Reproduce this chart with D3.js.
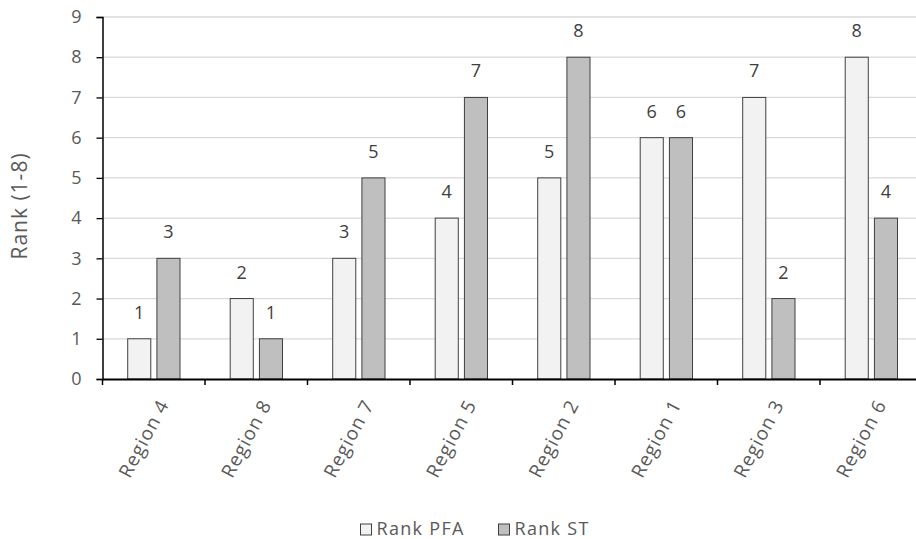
<!DOCTYPE html>
<html>
<head>
<meta charset="utf-8">
<script src="https://cdn.jsdelivr.net/npm/d3@7"></script>
<style>
  html, body { margin: 0; padding: 0; background: #fff; }
  svg { display: block; font-family: "Open Sans", "Noto Sans", sans-serif; }
</style>
</head>
<body>
<svg id="chart" width="916" height="539"></svg>
<script>
const categories = ["Region 4", "Region 8", "Region 7", "Region 5", "Region 2", "Region 1", "Region 3", "Region 6"];
const rankPFA = [1, 2, 3, 4, 5, 6, 7, 8];
const rankST = [3, 1, 5, 7, 8, 6, 2, 4];
const seriesNames = ["Rank PFA", "Rank ST"];
const yTicks = [0, 1, 2, 3, 4, 5, 6, 7, 8, 9];
const yTitle = "Rank (1-8)";

(function () {
const colors = ["#f2f2f2", "#bfbfbf"];
const textColor = "#595959";

const svg = d3.select("#chart");
const mLeft = 102.5, mRight = 922.5, mTop = 17, mBottom = 379;

const x = d3.scaleBand().domain(categories).range([mLeft, mRight]).paddingInner(0).paddingOuter(0);
const x1 = d3.scaleBand().domain(seriesNames).range([25.2, 77.5]).paddingInner(0.21);
const y = d3.scaleLinear().domain([0, 9]).range([mBottom, mTop]);

// gridlines
svg.append("g").selectAll("line").data(yTicks.filter(d => d > 0)).join("line")
  .attr("x1", mLeft).attr("x2", 916)
  .attr("y1", d => y(d)).attr("y2", d => y(d))
  .attr("stroke", "#d9d9d9").attr("stroke-width", 1.3);

// bars
const data = categories.map((c, i) => ({ c, vals: [rankPFA[i], rankST[i]] }));
const groups = svg.append("g").selectAll("g").data(data).join("g")
  .attr("transform", d => `translate(${x(d.c)},0)`);
groups.selectAll("rect").data(d => d.vals.map((v, j) => ({ v, s: seriesNames[j], j }))).join("rect")
  .attr("x", d => x1(d.s)).attr("width", x1.bandwidth())
  .attr("y", d => y(d.v)).attr("height", d => y(0) - y(d.v))
  .attr("fill", d => colors[d.j]).attr("stroke", "#404040").attr("stroke-width", 1);
groups.selectAll("text").data(d => d.vals.map((v, j) => ({ v, s: seriesNames[j], j }))).join("text")
  .attr("x", d => x1(d.s) + x1.bandwidth() / 2).attr("y", d => y(d.v) - 20)
  .attr("text-anchor", "middle").attr("font-size", 18).attr("fill", "#404040")
  .text(d => d.v);

// y axis
const yAxis = svg.append("g").attr("transform", `translate(${mLeft},0)`)
  .call(d3.axisLeft(y).tickValues(yTicks).tickSize(6).tickPadding(15));
yAxis.select(".domain").attr("stroke", "#000").attr("stroke-width", 1.5);
yAxis.selectAll(".tick line").attr("stroke", "#000").attr("stroke-width", 1.3);
yAxis.selectAll(".tick text").attr("font-size", 18).attr("fill", textColor)
  .attr("font-family", "Open Sans, sans-serif");

// x axis
const xAxis = svg.append("g").attr("transform", `translate(0,${mBottom})`)
  .call(d3.axisBottom(x).tickSize(0).tickFormat(""));
xAxis.select(".domain").attr("stroke", "#000").attr("stroke-width", 2.2);
const xt = categories.map((c) => x(c)).concat([mRight]);
svg.append("g").selectAll("line").data(xt).join("line")
  .attr("x1", d => d).attr("x2", d => d).attr("y1", mBottom).attr("y2", mBottom + 6)
  .attr("stroke", "#000").attr("stroke-width", 1.5);
svg.append("g").selectAll("text").data(categories).join("text")
  .attr("transform", d => `translate(${x(d) + x.bandwidth() / 2 + 10},${mBottom + 22}) rotate(-62)`)
  .attr("text-anchor", "end").attr("dy", "0.35em")
  .attr("font-size", 19).attr("letter-spacing", 1.1).attr("fill", textColor)
  .text(d => d);

// y title
svg.append("text")
  .attr("transform", `translate(27,${206}) rotate(-90)`)
  .attr("text-anchor", "middle").attr("font-size", 21).attr("letter-spacing", 1).attr("fill", textColor)
  .text(yTitle);

// legend
const legendItems = [{ name: seriesNames[0], x: 360.5 }, { name: seriesNames[1], x: 498.5 }];
const lg = svg.append("g").selectAll("g").data(legendItems).join("g")
  .attr("transform", d => `translate(${d.x},524)`);
lg.append("rect").attr("width", 11).attr("height", 11)
  .attr("fill", (d, i) => colors[i]).attr("stroke", "#404040").attr("stroke-width", 1);
lg.append("text").attr("x", 16).attr("y", 10.5).attr("font-size", 18).attr("letter-spacing", 1.3).attr("fill", textColor)
  .text(d => d.name);
})();
</script>
</body>
</html>
